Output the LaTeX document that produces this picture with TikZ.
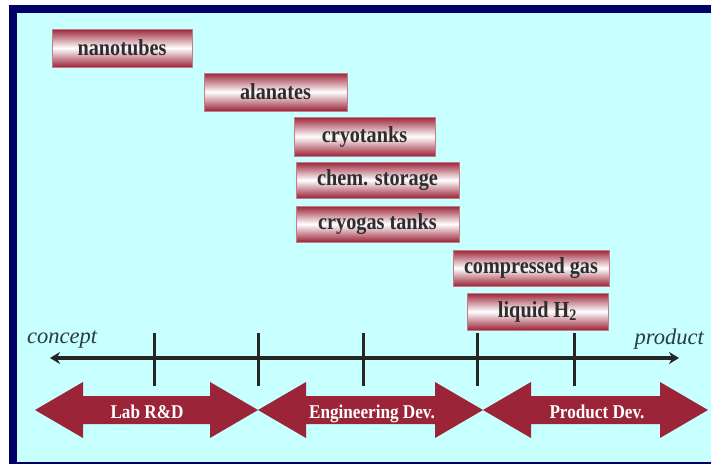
\documentclass[tikz,border=0pt]{standalone}
\usepackage{fontspec}
\setmainfont{Liberation Serif}
\newfontfamily\lblfont[FakeStretch=0.88]{Liberation Serif}
\usetikzlibrary{arrows.meta}
\definecolor{navyframe}{RGB}{0,0,102}
\definecolor{bgcyan}{RGB}{200,255,255}
\definecolor{boxred}{RGB}{155,36,56}
\definecolor{arrred}{RGB}{155,36,56}
\definecolor{boxtext}{RGB}{45,45,45}
\definecolor{endtext}{RGB}{40,60,60}
\tikzset{
  techbox/.style={inner sep=0pt, anchor=center, draw=boxred!60!white, line width=0.6pt,
    top color=boxred, bottom color=boxred, middle color=white,
    font=\lblfont\bfseries\fontsize{23}{24}\selectfont, text=boxtext},
  phasearrow/.style={fill=arrred, draw=none},
  phaselabel/.style={font=\lblfont\bfseries\fontsize{19.5}{21}\selectfont, text=white, inner sep=0pt},
  endlabel/.style={font=\itshape\fontsize{22.5}{24}\selectfont, text=endtext, inner sep=0pt},
  tickline/.style={line width=3pt, draw=black!85},
}
\begin{document}
\begin{tikzpicture}[x=1pt,y=-1pt]
\useasboundingbox (0,0) rectangle (711,464);
% frame
\fill[white] (0,0) rectangle (711,464);
\fill[navyframe] (9,5) rectangle (711,464);
\fill[bgcyan] (17,13) rectangle (711,461.5);

% technology boxes
\newcommand{\techbox}[6]{%
  \node[techbox, minimum width={#3-#2}, minimum height={#5-#4}]
    (#1) at ({(#2+#3)/2},{(#4+#5)/2}) {#6};}
\techbox{nano}{52}{192}{29}{67}{nanotubes}
\techbox{alan}{204}{347}{73}{111}{alanates}
\techbox{cryo}{294}{435}{117}{156}{cryotanks}
\techbox{chem}{296}{459}{162}{198}{chem. storage}
\techbox{cgas}{296}{459}{206}{242}{cryogas tanks}
\techbox{comp}{453}{609}{250}{286}{compressed gas}
\techbox{liqh}{467}{608}{293}{330}{liquid H\textsubscript{2}}

% axis
\coordinate (axL) at (50,358);
\coordinate (axR) at (679,358);
\draw[line width=4.5pt, draw=black!85, {Stealth[length=10pt,width=12pt]}-{Stealth[length=10pt,width=12pt]}] (axL) -- (axR);
\foreach \tx [count=\i] in {154,258,363,477,574}{
  \coordinate (tA\i) at (\tx,333);
  \coordinate (tB\i) at (\tx,386);
  \draw[tickline] (tA\i) -- (tB\i);
}
\node[endlabel, anchor=base west] (concept) at (27,343) {concept};
\node[endlabel, anchor=base east] (product) at (704,344) {product};

% phase arrows
\newcommand{\phasearr}[2]{%
  \fill[phasearrow] (#1,410) -- (#1+48,382) -- (#1+48,396) -- (#2-48,396) -- (#2-48,382)
    -- (#2,410) -- (#2-48,438) -- (#2-48,424) -- (#1+48,424) -- (#1+48,438) -- cycle;}
\phasearr{35}{258}
\phasearr{258}{483}
\phasearr{483}{708}
\node[phaselabel, anchor=base] (lab) at (147,418) {Lab R\&D};
\node[phaselabel, anchor=base] (eng) at (372,418) {Engineering Dev.};
\node[phaselabel, anchor=base] (prod) at (597,418) {Product Dev.};
\end{tikzpicture}
\end{document}
